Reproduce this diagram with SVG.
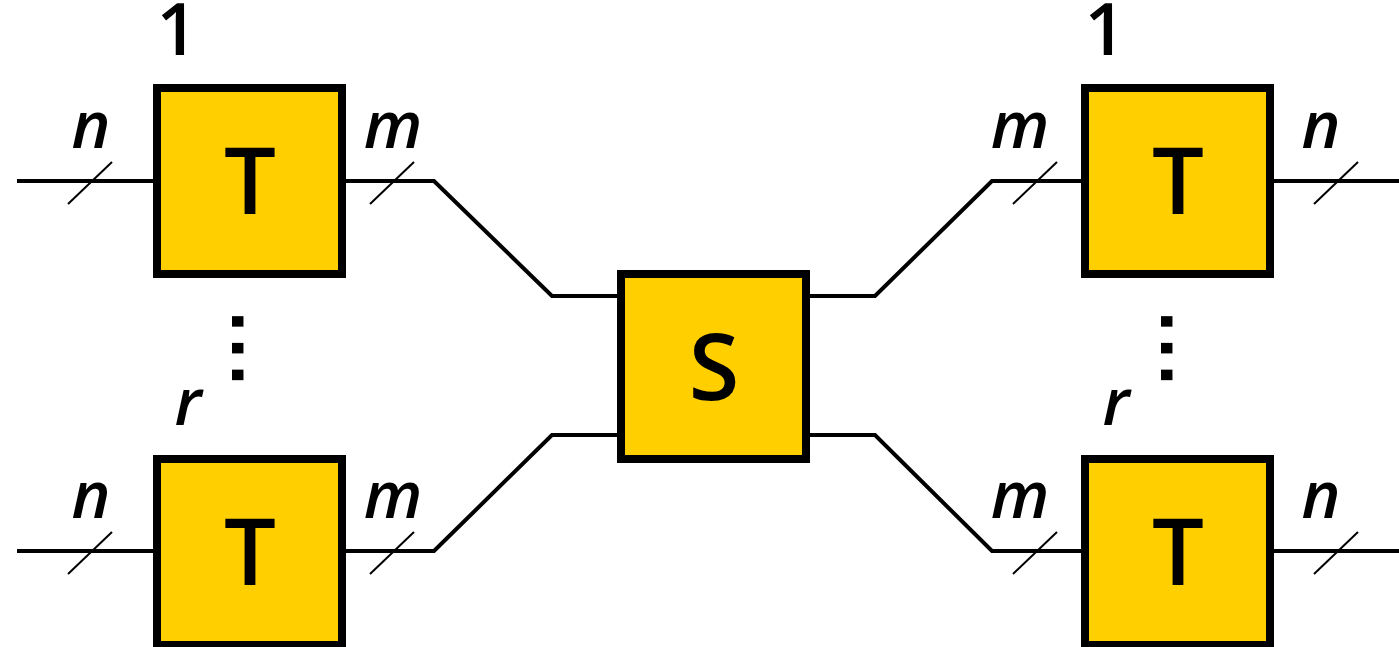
<svg xmlns="http://www.w3.org/2000/svg" width="1399" height="647" viewBox="0 0 1399 647">
  <style>
    .wire { fill: none; stroke: #000; stroke-width: 4; stroke-linejoin: miter; }
    .slash { stroke: #000; stroke-width: 2; }
    .box { fill: #FFCF00; stroke: #000; stroke-width: 8; }
    .big { font-family: "Open Sans", "Noto Sans", sans-serif; font-weight: 600; font-size: 92px; text-anchor: middle; fill: #000; }
    .idx { font-family: "Open Sans", "Noto Sans", sans-serif; font-weight: 600; font-size: 72px; text-anchor: middle; fill: #000; }
    .lab { font-family: "Open Sans", "Noto Sans", sans-serif; font-style: italic; font-weight: 600; font-size: 66px; text-anchor: middle; fill: #000; }
    .dots { font-family: "DejaVu Sans", sans-serif; font-weight: 700; font-size: 60px; letter-spacing: 4px; fill: #000; }
  </style>
  <g id="connectors">
    <path class="wire" d="M17,181 H157"/>
    <path class="wire" d="M342,181 H434 L552,296 H620"/>
    <path class="wire" d="M17,551 H157"/>
    <path class="wire" d="M342,551 H434 L552,435 H620"/>
    <path class="wire" d="M806,296 H875 L992,181 H1085"/>
    <path class="wire" d="M806,435 H875 L992,551 H1085"/>
    <path class="wire" d="M1270,181 H1399"/>
    <path class="wire" d="M1270,551 H1399"/>
    <line class="slash" x1="68" y1="204" x2="112" y2="162"/>
    <line class="slash" x1="370" y1="204" x2="414" y2="162"/>
    <line class="slash" x1="68" y1="574" x2="112" y2="532"/>
    <line class="slash" x1="370" y1="574" x2="414" y2="532"/>
    <line class="slash" x1="1013" y1="204" x2="1057" y2="162"/>
    <line class="slash" x1="1314" y1="204" x2="1358" y2="162"/>
    <line class="slash" x1="1013" y1="574" x2="1057" y2="532"/>
    <line class="slash" x1="1314" y1="574" x2="1358" y2="532"/>
  </g>
  <g id="labels">
    <text class="lab" x="91" y="148">n</text>
    <text class="lab" x="393" y="148">m</text>
    <text class="lab" x="91" y="518">n</text>
    <text class="lab" x="393" y="518">m</text>
    <text class="lab" x="1020" y="148">m</text>
    <text class="lab" x="1321" y="148">n</text>
    <text class="lab" x="1020" y="518">m</text>
    <text class="lab" x="1321" y="518">n</text>
    <text class="lab" x="188" y="425">r</text>
    <text class="lab" x="1116" y="425">r</text>
    <text class="idx" x="177" y="55">1</text>
    <text class="idx" x="1105" y="55">1</text>
    <text class="dots" transform="translate(232,310) rotate(90)" x="0" y="0">...</text>
    <text class="dots" transform="translate(1161,310) rotate(90)" x="0" y="0">...</text>
  </g>
  <g id="T1_left">
    <rect class="box" x="157" y="88" width="185" height="186"/>
    <text class="big" x="250" y="214">T</text>
  </g>
  <g id="Tr_left">
    <rect class="box" x="157" y="459" width="185" height="186"/>
    <text class="big" x="250" y="585">T</text>
  </g>
  <g id="S">
    <rect class="box" x="621" y="274" width="185" height="185"/>
    <text class="big" x="714" y="400">S</text>
  </g>
  <g id="T1_right">
    <rect class="box" x="1085" y="88" width="185" height="186"/>
    <text class="big" x="1178" y="214">T</text>
  </g>
  <g id="Tr_right">
    <rect class="box" x="1085" y="459" width="185" height="186"/>
    <text class="big" x="1178" y="585">T</text>
  </g>
</svg>
